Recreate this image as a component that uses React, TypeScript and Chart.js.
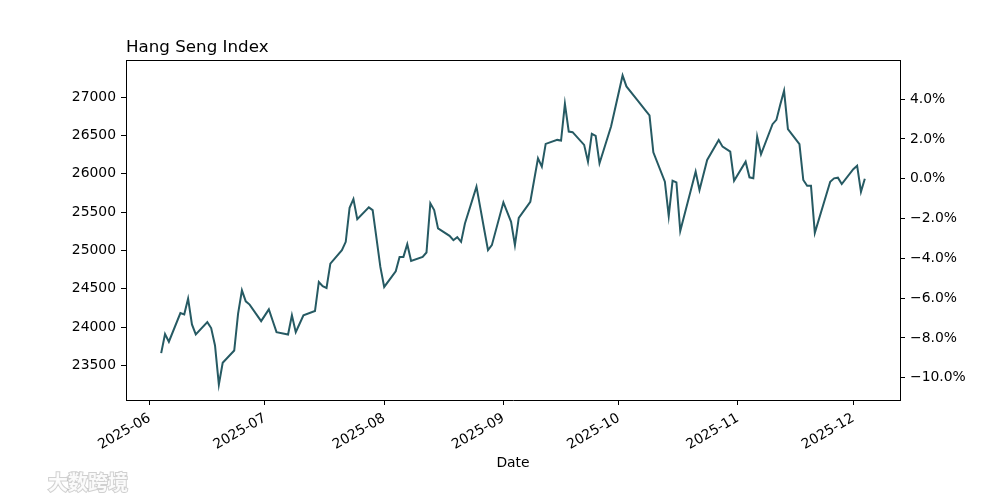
import React, { useEffect, useRef } from 'react';
import { Chart, registerables } from 'chart.js';

Chart.register(...registerables);

const titleText = 'Hang Seng Index';
const xAxisTitle = 'Date';
const watermarkText = '大数跨境';

const dates: string[] = [
  '2025-06-04', '2025-06-05', '2025-06-06', '2025-06-09', '2025-06-10', '2025-06-11', '2025-06-12', '2025-06-13',
  '2025-06-16', '2025-06-17', '2025-06-18', '2025-06-19', '2025-06-20', '2025-06-23', '2025-06-24', '2025-06-25',
  '2025-06-26', '2025-06-27', '2025-06-30',
  '2025-07-02', '2025-07-03', '2025-07-04', '2025-07-07', '2025-07-08', '2025-07-09', '2025-07-10', '2025-07-11',
  '2025-07-14', '2025-07-15', '2025-07-16', '2025-07-17', '2025-07-18', '2025-07-21', '2025-07-22', '2025-07-23',
  '2025-07-24', '2025-07-25', '2025-07-28', '2025-07-29', '2025-07-30', '2025-07-31',
  '2025-08-01', '2025-08-04', '2025-08-05', '2025-08-06', '2025-08-07', '2025-08-08', '2025-08-11', '2025-08-12',
  '2025-08-13', '2025-08-14', '2025-08-15', '2025-08-18', '2025-08-19', '2025-08-20', '2025-08-21', '2025-08-22',
  '2025-08-25', '2025-08-26', '2025-08-27', '2025-08-28', '2025-08-29',
  '2025-09-01', '2025-09-02', '2025-09-03', '2025-09-04', '2025-09-05', '2025-09-08', '2025-09-09', '2025-09-10',
  '2025-09-11', '2025-09-12', '2025-09-15', '2025-09-16', '2025-09-17', '2025-09-18', '2025-09-19', '2025-09-22',
  '2025-09-23', '2025-09-24', '2025-09-25', '2025-09-26', '2025-09-29', '2025-09-30',
  '2025-10-02', '2025-10-03', '2025-10-06', '2025-10-08', '2025-10-09', '2025-10-10', '2025-10-13', '2025-10-14',
  '2025-10-15', '2025-10-16', '2025-10-17', '2025-10-20', '2025-10-21', '2025-10-22', '2025-10-23', '2025-10-24',
  '2025-10-27', '2025-10-28', '2025-10-30', '2025-10-31',
  '2025-11-03', '2025-11-04', '2025-11-05', '2025-11-06', '2025-11-07', '2025-11-10', '2025-11-11', '2025-11-12',
  '2025-11-13', '2025-11-14', '2025-11-17', '2025-11-18', '2025-11-19', '2025-11-20', '2025-11-21', '2025-11-24',
  '2025-11-25', '2025-11-26', '2025-11-27', '2025-11-28',
  '2025-12-01', '2025-12-02', '2025-12-03', '2025-12-04',
];

const closes: number[] = [
  23662, 23910, 23811, 24185, 24168, 24373, 24037, 23906,
  24067, 23989, 23763, 23253, 23536, 23697, 24177, 24481,
  24338, 24295, 24080,
  24233, 24085, 23936, 23906, 24155, 23936, 24045, 24155,
  24211, 24590, 24534, 24512, 24830, 25004, 25113, 25557,
  25671, 25409, 25562, 25527, 25157, 24786,
  24525, 24730, 24917, 24917, 25083, 24864, 24917, 24974,
  25615, 25527, 25288, 25191, 25135, 25174, 25113, 25353,
  25832, 25555, 25277, 25004, 25070,
  25628, 25501, 25374, 25070, 25426, 25636, 25919, 26203,
  26093, 26390, 26442, 26433, 26912, 26550, 26543, 26377,
  26158, 26520, 26494, 26137, 26616, 26838,
  27282, 27139, 26950, 26823, 26760, 26281, 25897, 25449,
  25910, 25889, 25256, 25835, 26028, 25788, 25985, 26181,
  26442, 26354, 26289, 25910,
  26158, 25954, 25941, 26485, 26255, 26647, 26703, 26899,
  27082, 26582, 26386, 25919, 25845, 25845, 25230, 25730,
  25897, 25941, 25949, 25867,
  26060, 26106, 25766, 25935,
];

const monthTicks: string[] = ['2025-06', '2025-07', '2025-08', '2025-09', '2025-10', '2025-11', '2025-12'];
const leftTicks: number[] = [23500, 24000, 24500, 25000, 25500, 26000, 26500, 27000];
const rightTicks: number[] = [-10, -8, -6, -4, -2, 0, 2, 4];

const DAY = 864e5;
const toDay = (s: string) => Date.parse(s) / DAY;

export default function App() {
  const ref = useRef<HTMLCanvasElement>(null);

  useEffect(() => {
    if (!ref.current) return;
    const pts = dates.map((d, i) => ({ x: toDay(d), y: closes[i] }));
    const x0 = pts[0].x;
    const x1 = pts[pts.length - 1].x;
    const xpad = (x1 - x0) * 0.05;
    const ymin = Math.min(...closes);
    const ymax = Math.max(...closes);
    const ypad = (ymax - ymin) * 0.05;
    const yLo = ymin - ypad;
    const yHi = ymax + ypad;
    const base = closes[closes.length - 1];
    const monthVals = monthTicks.map((m) => toDay(m + '-01'));

    const font = { family: "'DejaVu Sans', sans-serif", size: 13.9 };
    const grid = { drawOnChartArea: false, drawTicks: true, tickLength: 5, color: '#000', tickWidth: 1 };
    const border = { display: true, color: '#000', width: 1 };

    const framePlugin = {
      id: 'frameAndText',
      afterDraw(chart: any) {
        const { ctx, chartArea: a } = chart;
        ctx.save();
        ctx.strokeStyle = '#000';
        ctx.lineWidth = 1;
        const ty = Math.round(a.top) + 0.5;
        ctx.beginPath();
        ctx.moveTo(a.left, ty);
        ctx.lineTo(a.right, ty);
        ctx.stroke();

        ctx.fillStyle = '#000';
        ctx.font = "16.7px 'DejaVu Sans', sans-serif";
        ctx.textAlign = 'left';
        ctx.textBaseline = 'alphabetic';
        ctx.fillText(titleText, a.left, 51.7);

        ctx.font = "13.9px 'DejaVu Sans', sans-serif";
        ctx.textAlign = 'center';
        ctx.fillText(xAxisTitle, (a.left + a.right) / 2, 467);

        ctx.font = "bold 20px 'Noto Sans CJK SC', sans-serif";
        ctx.textAlign = 'left';
        ctx.lineWidth = 2;
        ctx.strokeStyle = 'rgba(170,170,170,0.55)';
        ctx.fillStyle = 'rgba(255,255,255,0.9)';
        ctx.strokeText(watermarkText, 48, 490);
        ctx.fillText(watermarkText, 48, 490);
        ctx.restore();
      },
    };

    const chart = new Chart(ref.current, {
      type: 'line',
      data: {
        datasets: [
          {
            data: pts,
            borderColor: '#265a63',
            borderWidth: 2,
            pointRadius: 0,
            tension: 0,
            fill: false,
            yAxisID: 'y',
            xAxisID: 'x',
          },
        ],
      },
      options: {
        responsive: false,
        animation: false,
        layout: { padding: { top: 60, left: 0, right: 0, bottom: 0 } },
        plugins: { legend: { display: false }, tooltip: { enabled: false }, title: { display: false } },
        scales: {
          x: {
            type: 'linear',
            position: 'bottom',
            min: x0 - xpad,
            max: x1 + xpad,
            afterBuildTicks: (s: any) => {
              s.ticks = monthVals.map((v) => ({ value: v }));
            },
            afterFit: (s: any) => {
              s.height = 100;
            },
            ticks: {
              autoSkip: false,
              minRotation: 30,
              maxRotation: 30,
              padding: 5,
              color: '#000',
              font,
              callback: (v: any) => {
                const i = monthVals.indexOf(v);
                return i >= 0 ? monthTicks[i] : '';
              },
            },
            grid,
            border,
          },
          y: {
            type: 'linear',
            position: 'left',
            min: yLo,
            max: yHi,
            afterBuildTicks: (s: any) => {
              s.ticks = leftTicks.map((v) => ({ value: v }));
            },
            afterFit: (s: any) => {
              s.width = 126;
            },
            ticks: { padding: 5, color: '#000', font, callback: (v: any) => String(v) },
            grid,
            border,
          },
          y2: {
            type: 'linear',
            axis: 'y',
            position: 'right',
            min: (yLo / base - 1) * 100,
            max: (yHi / base - 1) * 100,
            afterBuildTicks: (s: any) => {
              s.ticks = rightTicks.map((v) => ({ value: v }));
            },
            afterFit: (s: any) => {
              s.width = 100;
            },
            ticks: {
              padding: 5,
              color: '#000',
              font,
              callback: (v: any) => (v < 0 ? '\u2212' : '') + Math.abs(v).toFixed(1) + '%',
            },
            grid,
            border,
          },
        },
      } as any,
      plugins: [framePlugin],
    });

    return () => chart.destroy();
  }, []);

  return (
    <div style={{ position: 'absolute', left: 0, top: 0, width: 1000, height: 500, background: '#fff' }}>
      <canvas ref={ref} width={1000} height={500} style={{ display: 'block' }} />
    </div>
  );
}
